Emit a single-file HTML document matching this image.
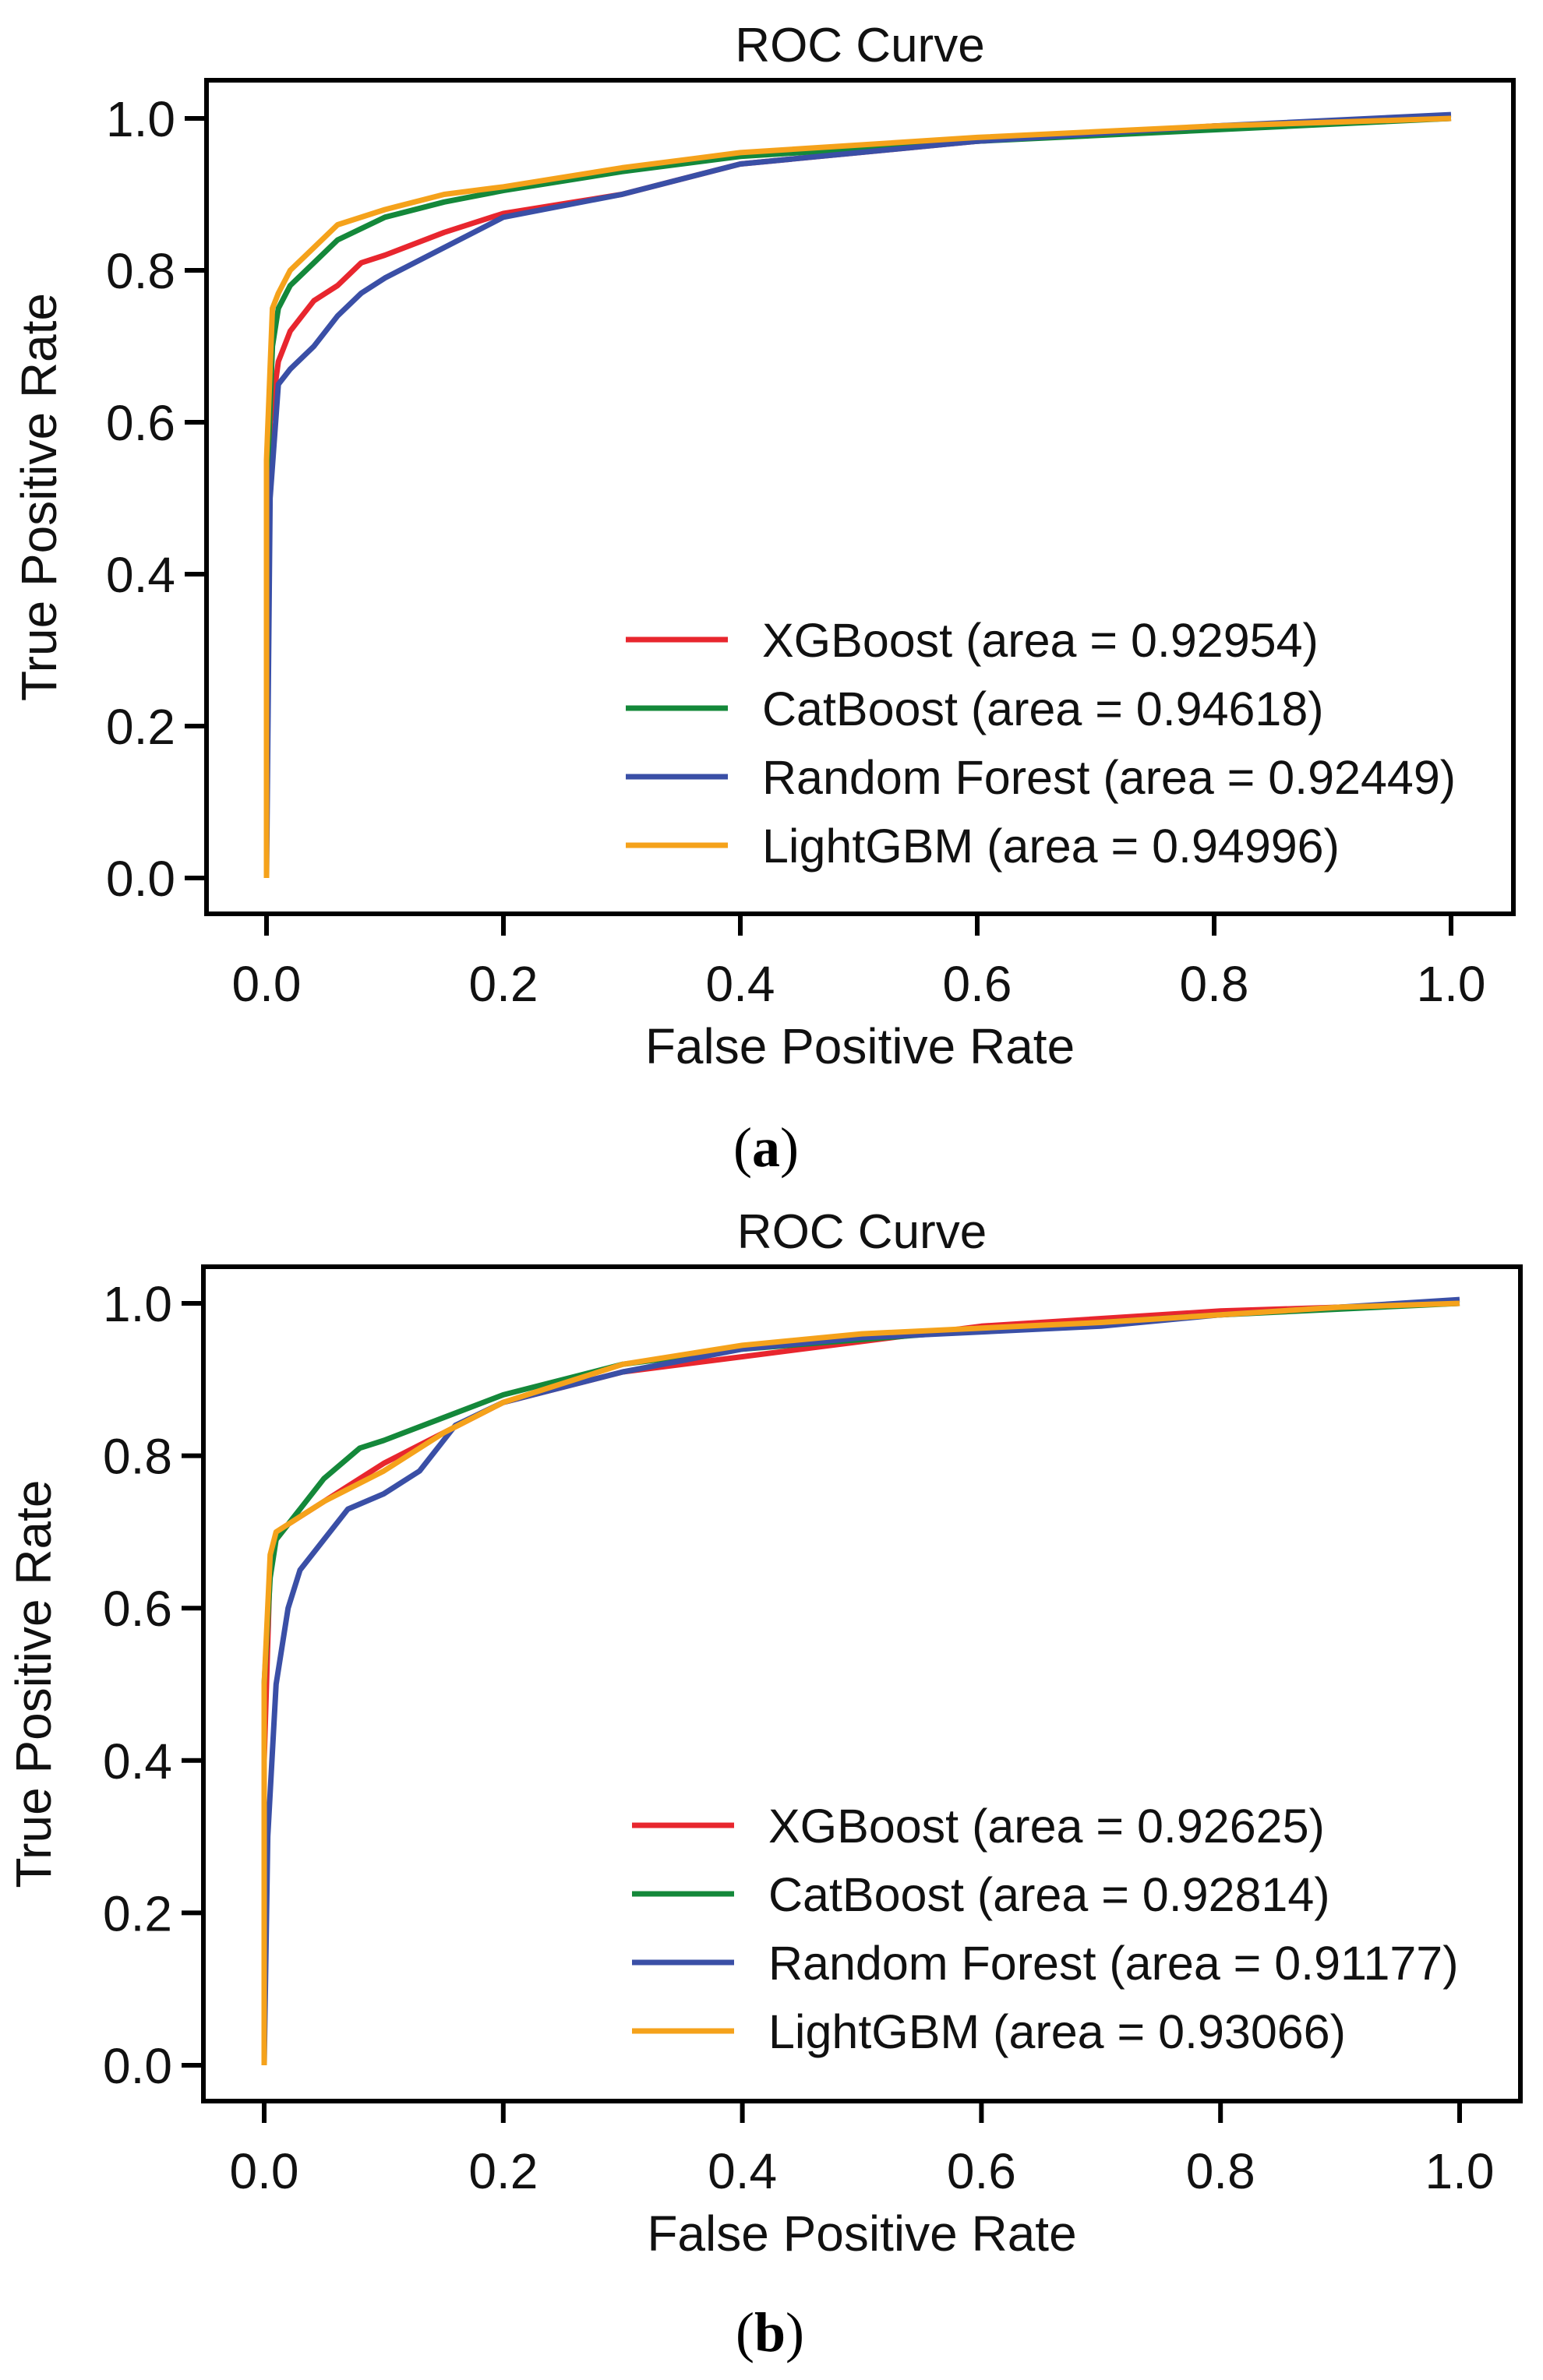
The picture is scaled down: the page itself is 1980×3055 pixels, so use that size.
<!DOCTYPE html>
<html><head><meta charset="utf-8">
<style>
html,body{margin:0;padding:0;background:#fff;}
svg{display:block;font-family:"Liberation Sans",Arial,sans-serif;}
</style></head>
<body>
<svg id="fig" width="1980" height="3055" viewBox="0 0 1980 3055"></svg>
<script>
// ---- data ----
const seriesNames = ["XGBoost","CatBoost","Random Forest","LightGBM"];
const seriesColors = ["#e8262e","#14883a","#3a4fa6","#f5a21b"];
const xTicks = [0,0.2,0.4,0.6,0.8,1.0];
const yTicks = [0,0.2,0.4,0.6,0.8,1.0];
const aucA = ["0.92954","0.94618","0.92449","0.94996"];
const aucB = ["0.92625","0.92814","0.91177","0.93066"];

const aXgbFpr=[0,0,0.003,0.01,0.02,0.04,0.06,0.08,0.1,0.15,0.2,0.3,0.4,0.5,0.6,0.7,0.8,0.9,1];
const aXgbTpr=[0,0.3,0.6,0.68,0.72,0.76,0.78,0.81,0.82,0.85,0.875,0.9,0.94,0.955,0.97,0.98,0.99,0.995,1];
const aCatFpr=[0,0,0.005,0.01,0.02,0.04,0.06,0.1,0.15,0.2,0.3,0.4,0.6,0.8,1];
const aCatTpr=[0,0.5,0.7,0.75,0.78,0.81,0.84,0.87,0.89,0.905,0.93,0.95,0.97,0.985,1];
const aRfFpr=[0,0.003,0.01,0.02,0.04,0.06,0.08,0.1,0.15,0.2,0.3,0.4,0.5,0.6,0.8,1];
const aRfTpr=[0,0.5,0.65,0.67,0.7,0.74,0.77,0.79,0.83,0.87,0.9,0.94,0.955,0.97,0.99,1.005];
const aLgbFpr=[0,0,0.005,0.01,0.02,0.04,0.06,0.1,0.15,0.2,0.3,0.4,0.6,0.8,1];
const aLgbTpr=[0,0.55,0.75,0.77,0.8,0.83,0.86,0.88,0.9,0.91,0.935,0.955,0.975,0.99,1];

const bXgbFpr=[0,0,0.005,0.01,0.02,0.05,0.08,0.1,0.15,0.2,0.3,0.4,0.5,0.6,0.8,1];
const bXgbTpr=[0,0.4,0.66,0.69,0.71,0.74,0.77,0.79,0.83,0.87,0.91,0.93,0.95,0.97,0.99,1];
const bCatFpr=[0,0,0.005,0.01,0.03,0.05,0.08,0.1,0.15,0.2,0.3,0.4,0.6,0.8,1];
const bCatTpr=[0,0.5,0.64,0.69,0.73,0.77,0.81,0.82,0.85,0.88,0.92,0.94,0.965,0.985,1];
const bRfFpr=[0,0.003,0.01,0.02,0.03,0.05,0.07,0.1,0.13,0.16,0.2,0.3,0.4,0.5,0.7,0.8,1];
const bRfTpr=[0,0.3,0.5,0.6,0.65,0.69,0.73,0.75,0.78,0.84,0.87,0.91,0.94,0.955,0.97,0.985,1.005];
const bLgbFpr=[0,0,0.005,0.01,0.03,0.05,0.1,0.15,0.2,0.3,0.4,0.5,0.7,0.9,1];
const bLgbTpr=[0,0.5,0.67,0.7,0.72,0.74,0.78,0.83,0.87,0.92,0.945,0.96,0.975,0.995,1];

const NS="http://www.w3.org/2000/svg";
const svg=document.getElementById('fig');
function mk(tag,attrs,parent){const e=document.createElementNS(NS,tag);for(const k in attrs)e.setAttribute(k,attrs[k]);(parent||svg).appendChild(e);return e;}

function panel(cfg){
  const g=mk('g',{});
  
  
  const sx=v=>cfg.x0+(cfg.x1-cfg.x0)*v;
  const sy=v=>cfg.y0+(cfg.y1-cfg.y0)*v;
  const t=mk('text',{x:(cfg.L+cfg.R)/2,y:cfg.T-24,'font-size':62,'text-anchor':'middle',fill:'#111'},g);
  t.textContent='ROC Curve';
  
  
  cfg.series.forEach((s,i)=>{
    let d='';
    s.fpr.forEach((f,j)=>{d+=(j?'L':'M')+sx(f).toFixed(1)+','+sy(s.tpr[j]).toFixed(1);});
    const p=mk('path',{d:d,fill:'none',stroke:seriesColors[i],'stroke-width':7,'stroke-linejoin':'round'},g);
    
    
  });
  const box=mk('rect',{x:cfg.L,y:cfg.T,width:cfg.R-cfg.L,height:cfg.B-cfg.T,fill:'none',stroke:'#000','stroke-width':6},g);
  
  
  xTicks.forEach(v=>{
    mk('line',{x1:sx(v),x2:sx(v),y1:cfg.B,y2:cfg.B+28,stroke:'#000','stroke-width':6},g);
    const tx=mk('text',{x:sx(v),y:cfg.B+112,'font-size':64,'text-anchor':'middle',fill:'#111'},g);
    tx.textContent=v.toFixed(1);
    
    
  });
  yTicks.forEach(v=>{
    mk('line',{x1:cfg.L-28,x2:cfg.L,y1:sy(v),y2:sy(v),stroke:'#000','stroke-width':6},g);
    const ty=mk('text',{x:cfg.L-40,y:sy(v)+23,'font-size':64,'text-anchor':'end',fill:'#111'},g);
    ty.textContent=v.toFixed(1);
    
    
  });
  const xl=mk('text',{x:(cfg.L+cfg.R)/2,y:cfg.B+192,'font-size':64,'text-anchor':'middle',fill:'#111'},g);
  xl.textContent='False Positive Rate';
  
  
  const yc=(cfg.T+cfg.B)/2;
  const yl=mk('text',{x:cfg.ylx,y:yc,'font-size':64,'text-anchor':'middle',fill:'#111',transform:`rotate(-90 ${cfg.ylx} ${yc})`},g);
  yl.textContent='True Positive Rate';
  
  
  cfg.auc.forEach((a,i)=>{
    const y=cfg.legY+i*cfg.legDy;
    const ln=mk('line',{x1:cfg.legX,x2:cfg.legX+131,y1:y,y2:y,stroke:seriesColors[i],'stroke-width':7},g);
    
    
    const lt=mk('text',{x:cfg.legX+175,y:y+22,'font-size':61,fill:'#111'},g);
    lt.textContent=`${seriesNames[i]} (area = ${a})`;
    
    
  });
  const cap=mk('text',{x:cfg.capX,y:cfg.capY,'font-size':72,'text-anchor':'middle',fill:'#000','font-family':'"Liberation Serif",serif'},g);
  cap.innerHTML='(<tspan font-weight="bold">'+cfg.cap+'</tspan>)';
  
  
}

panel({id:'panel-a',L:265,R:1942,T:103,B:1173,x0:342,x1:1862,y0:1127,y1:152,ylx:72,
  legX:803,legY:821,legDy:88,capX:983,capY:1497,cap:'a',auc:aucA,
  series:[{fpr:aXgbFpr,tpr:aXgbTpr},{fpr:aCatFpr,tpr:aCatTpr},{fpr:aRfFpr,tpr:aRfTpr},{fpr:aLgbFpr,tpr:aLgbTpr}]});
panel({id:'panel-b',L:261,R:1951,T:1626,B:2697,x0:339,x1:1873,y0:2651,y1:1673,ylx:65,
  legX:811,legY:2343,legDy:88,capX:988,capY:3018,cap:'b',auc:aucB,
  series:[{fpr:bXgbFpr,tpr:bXgbTpr},{fpr:bCatFpr,tpr:bCatTpr},{fpr:bRfFpr,tpr:bRfTpr},{fpr:bLgbFpr,tpr:bLgbTpr}]});
</script>
</body></html>
